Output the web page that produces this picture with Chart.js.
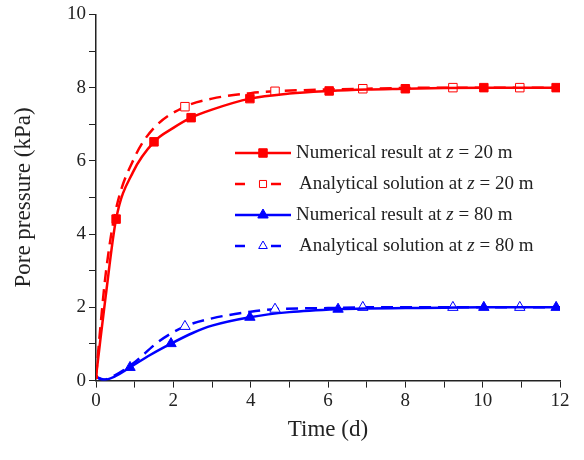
<!DOCTYPE html>
<html><head><meta charset="utf-8">
<script src="https://cdn.jsdelivr.net/npm/chart.js@4/dist/chart.umd.min.js"></script>
<style>body{margin:0;background:#fff}#wrap{width:584px;height:460px}</style>
</head><body><div id="wrap"><canvas id="c"></canvas></div>
<script>
// z = 20 m, numerical
const num20T = [0, 0.1, 0.25, 0.52, 0.96, 1.5, 2, 2.46, 3, 3.98, 5, 6.03, 7, 8, 9, 10.03, 11, 11.9, 12]
const num20Y = [0.1, 1.0, 2.3, 4.41, 5.7, 6.52, 6.9, 7.18, 7.4, 7.7, 7.84, 7.91, 7.95, 7.97, 7.99, 8.0, 8.0, 8.0, 8.0]
const num20Mk = [0, 3, 5, 7, 9, 11, 13, 15, 17]
// z = 20 m, analytical
const ana20T = [0, 0.1, 0.25, 0.5, 1, 1.5, 2.3, 3, 4, 4.63, 6, 6.9, 8, 9.23, 10.96, 12]
const ana20Y = [0.1, 1.3, 2.9, 4.6, 6.1, 6.9, 7.48, 7.7, 7.85, 7.9, 7.95, 7.97, 7.99, 8.0, 8.0, 8.0]
const ana20Mk = [0, 6, 9, 11, 13, 14]
// z = 80 m, numerical
const num80T = [0, 0.2, 0.5, 0.88, 1.4, 1.94, 2.5, 3, 3.98, 5, 6.26, 7, 8, 9, 10.03, 11, 11.9, 12]
const num80Y = [0.1, 0.02, 0.12, 0.36, 0.7, 1.01, 1.3, 1.5, 1.73, 1.87, 1.95, 1.97, 1.98, 1.99, 2.0, 2.0, 2.0, 2.0]
const num80Mk = [0, 3, 5, 8, 10, 14, 16]
// z = 80 m, analytical
const ana80T = [0, 0.2, 0.5, 1, 1.6, 2.3, 3, 4, 4.63, 6, 6.9, 8, 9.23, 10.96, 12]
const ana80Y = [0.1, 0.03, 0.15, 0.5, 1.05, 1.48, 1.7, 1.88, 1.95, 1.98, 2.0, 2.0, 2.0, 2.0, 2.0]
const ana80Mk = [0, 5, 8, 10, 12, 13]

const RED = '#ff0000', BLUE = '#0000ff'
const labels = ['Numerical result at ', 'Analytical solution at ', 'Numerical result at ', 'Analytical solution at ']
const depths = [' = 20 m', ' = 20 m', ' = 80 m', ' = 80 m']

function mk(t, y, marks, color, dashed, style, filled, label) {
  return {
    label: label,
    data: t.map((v, i) => ({x: v, y: y[i]})),
    borderColor: color,
    backgroundColor: filled ? color : '#fff',
    borderWidth: 2.5,
    borderDash: dashed ? [12, 7] : [],
    pointStyle: style,
    pointBorderWidth: 1,
    pointRadius: (ctx) => marks.includes(ctx.dataIndex) ? (ctx.dataIndex === 0 ? 2 : 6) : 0,
    pointHoverRadius: 0,
    cubicInterpolationMode: 'monotone'
  }
}

const datasets = [
  mk(num20T, num20Y, num20Mk, RED, false, 'rect', true, labels[0]),
  mk(ana20T, ana20Y, ana20Mk, RED, true, 'rect', false, labels[1]),
  mk(num80T, num80Y, num80Mk, BLUE, false, 'triangle', true, labels[2]),
  mk(ana80T, ana80Y, ana80Mk, BLUE, true, 'triangle', false, labels[3])
]

const legendPlugin = {
  id: 'legendBox',
  afterDraw(chart) {
    const ctx = chart.ctx
    const x0 = 235, y0 = 153, dy = 31
    datasets.forEach((d, i) => {
      const y = y0 + i * dy
      const open = d.backgroundColor === '#fff'
      ctx.save()
      ctx.strokeStyle = d.borderColor
      ctx.lineWidth = 2.5
      ctx.setLineDash(open ? [10, 26] : [])
      ctx.beginPath(); ctx.moveTo(x0, y); ctx.lineTo(x0 + 56, y); ctx.stroke()
      ctx.setLineDash([])
      ctx.fillStyle = d.backgroundColor
      ctx.lineWidth = 1
      Chart.helpers.drawPoint(ctx, {pointStyle: d.pointStyle, radius: open ? 5 : 6, rotation: 0, borderWidth: 1}, x0 + 28, y)
      ctx.fillStyle = '#222'
      ctx.textBaseline = 'middle'
      let tx = x0 + (open ? 64 : 61)
      ctx.font = '19px "Liberation Serif"'
      ctx.fillText(d.label, tx, y)
      tx += ctx.measureText(d.label).width
      ctx.font = 'italic 19px "Liberation Serif"'
      ctx.fillText('z', tx, y)
      tx += ctx.measureText('z').width
      ctx.font = '19px "Liberation Serif"'
      ctx.fillText(depths[i], tx, y)
      ctx.restore()
    })
  }
}

const tickFont = {family: 'Liberation Serif', size: 19}
new Chart(document.getElementById('c'), {
  type: 'line',
  data: {datasets: datasets},
  plugins: [legendPlugin],
  options: {
    responsive: true, maintainAspectRatio: false, animation: false,
    layout: {padding: {top: 4, right: 24, bottom: 12, left: 6}},
    plugins: {legend: {display: false}, tooltip: {enabled: false}},
    scales: {
      x: {
        type: 'linear', min: 0, max: 12,
        ticks: {stepSize: 1, color: '#222', font: tickFont, maxRotation: 0, autoSkip: false, padding: 2,
          callback: (v) => v % 2 === 0 ? v : ''},
        grid: {drawOnChartArea: false, tickLength: 7, color: '#222'},
        border: {color: '#222', width: 1.5},
        title: {display: true, text: 'Time (d)', color: '#222', font: {family: 'Liberation Serif', size: 23}, padding: {top: 2}}
      },
      y: {
        min: 0, max: 10,
        afterFit: (s) => { s.width = 90 },
        ticks: {stepSize: 1, color: '#222', font: tickFont, autoSkip: false,
          callback: (v) => v % 2 === 0 ? v : ''},
        grid: {drawOnChartArea: false, tickLength: 7, color: '#222'},
        border: {color: '#222', width: 1.5},
        title: {display: true, text: 'Pore pressure (kPa)', color: '#222', font: {family: 'Liberation Serif', size: 23}}
      }
    }
  }
})
</script></body></html>
